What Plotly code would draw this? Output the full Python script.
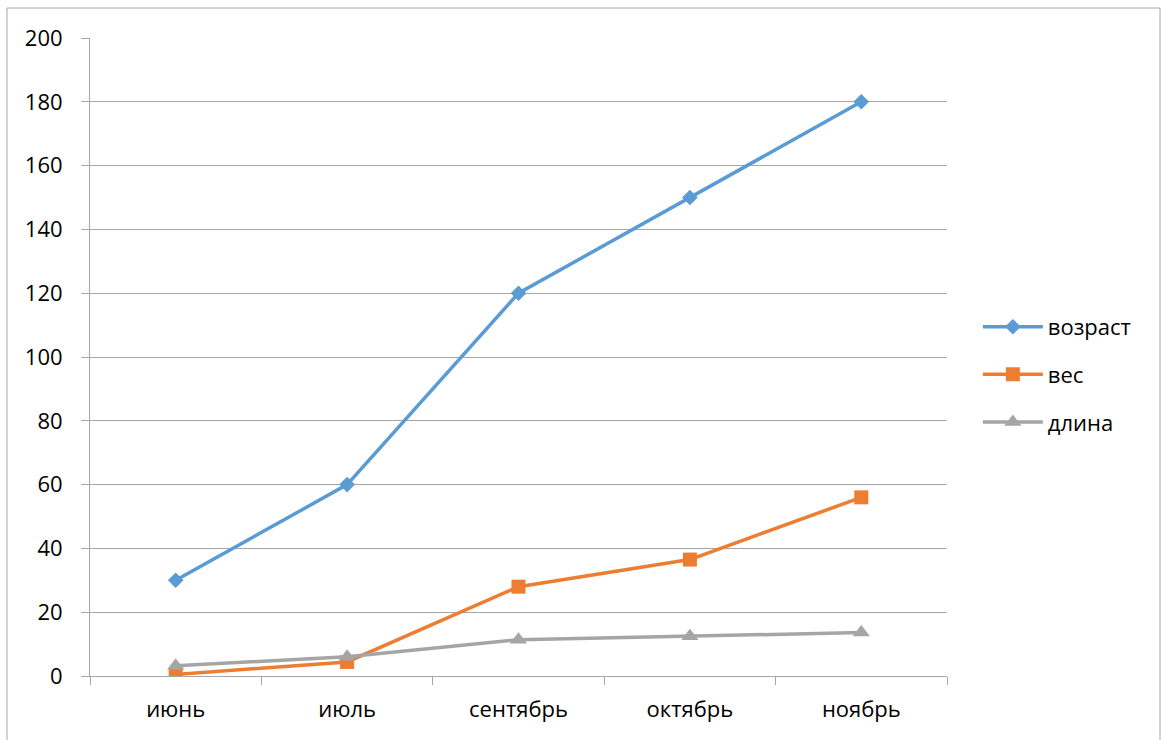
import plotly.graph_objects as go

months = ["июнь", "июль", "сентябрь", "октябрь", "ноябрь"]
vozrast = [30, 60, 120, 150, 180]
ves = [0.5, 4.4, 28.0, 36.5, 56.0]
dlina = [3.2, 6.0, 11.4, 12.5, 13.6]

series = [
    ("возраст", vozrast, "#5B9BD5", "diamond", 12),
    ("вес", ves, "#ED7D31", "square", 14),
    ("длина", dlina, "#A5A5A5", "triangle-up", 15),
]

fig = go.Figure()
for i, (name, vals, color, sym, msize) in enumerate(series):
    fig.add_trace(go.Scatter(
        x=months, y=vals, name=name, mode="lines+markers",
        line=dict(color=color, width=3.5),
        marker=dict(symbol=sym, size=msize, color=color),
        legendgroup=f"g{i}",
    ))

font = dict(family="Open Sans, Noto Sans, sans-serif", size=22, color="#000000")

fig.update_layout(
    width=1166, height=740,
    margin=dict(l=90, r=219, t=38, b=64),
    paper_bgcolor="white", plot_bgcolor="white",
    font=font,
    showlegend=True,
    legend=dict(x=1.036, y=0.58, xanchor="left", yanchor="top",
                tracegroupgap=16, itemwidth=60, font=font,
                bgcolor="rgba(0,0,0,0)"),
    xaxis=dict(
        type="category", range=[-0.5, 4.5], tickson="boundaries",
        ticks="outside", ticklen=8, tickcolor="#A6A6A6",
        showline=True, linecolor="#A6A6A6", linewidth=1,
        showgrid=False, tickfont=font, ticklabelstandoff=14,
    ),
    yaxis=dict(
        range=[0, 200], dtick=20, tickformat="d",
        ticks="outside", ticklen=8, tickcolor="#A6A6A6",
        showline=True, linecolor="#A6A6A6", linewidth=1,
        showgrid=True, gridcolor="#A6A6A6", gridwidth=1,
        zeroline=False, tickfont=font, ticklabelstandoff=14,
    ),
    shapes=[dict(
        type="rect", xref="paper", yref="paper",
        x0=(7 - 90) / 857, x1=(1160 - 90) / 857,
        y0=(676 - 760) / 638, y1=(676 - 8) / 638,
        line=dict(color="#A6A6A6", width=1), layer="below",
    )],
)

fig.write_html("out.html")
